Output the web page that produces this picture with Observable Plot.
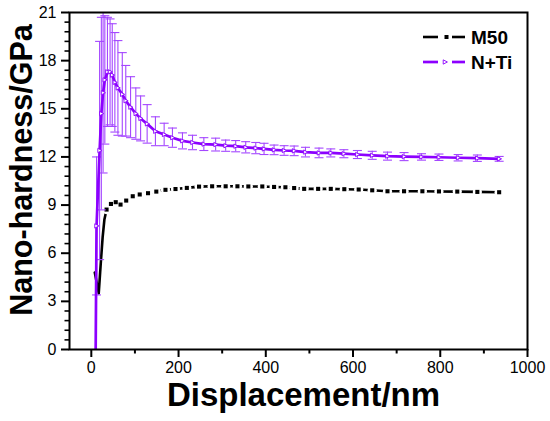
<!DOCTYPE html>
<html>
<head>
<meta charset="utf-8">
<script src="https://cdn.jsdelivr.net/npm/d3@7"></script>
<script src="https://cdn.jsdelivr.net/npm/@observablehq/plot@0.6"></script>
<style>
  body { margin: 0; background: #fff; }
  #wrap { position: relative; width: 550px; height: 421px; font-family: "Liberation Sans", Arial, sans-serif; }
  #legend { position: absolute; left: 0; top: 0; pointer-events: none; }
</style>
</head>
<body>
<div id="wrap"></div>
<script>
// ---- data ----
const seriesNames = ["M50", "N+Ti"];

const m50X = [8, 17, 22, 26, 30, 35, 45, 56, 67, 80, 95, 111, 130, 149, 170, 193, 219, 247, 277, 308, 335, 360, 392, 419, 445, 465, 488, 520, 549, 580, 613, 644, 679, 717, 759, 797, 839, 885, 935];
const m50Y = [4.8, 3.5, 5.5, 7.0, 8.1, 8.72, 9.07, 9.18, 9.03, 9.28, 9.55, 9.66, 9.74, 9.84, 9.95, 10.0, 10.07, 10.15, 10.17, 10.17, 10.17, 10.16, 10.16, 10.13, 10.11, 10.06, 10.01, 10.01, 10.01, 9.99, 9.97, 9.92, 9.86, 9.86, 9.86, 9.85, 9.84, 9.82, 9.8];

const ntiX = [10, 12, 19, 23, 27, 31, 37, 43, 48, 54, 61, 71, 79, 90, 102, 113, 128, 147, 167, 186, 209, 232, 258, 285, 308, 331, 354, 377, 396, 419, 442, 465, 491, 522, 549, 579, 610, 644, 679, 717, 757, 797, 841, 885, 935];
const ntiY = [0, 7.7, 12.4, 14.7, 16.0, 16.8, 17.3, 17.3, 17.1, 16.65, 16.3, 15.9, 15.5, 15.1, 14.7, 14.4, 14.06, 13.6, 13.4, 13.2, 13.0, 12.9, 12.8, 12.77, 12.7, 12.67, 12.6, 12.55, 12.5, 12.44, 12.4, 12.38, 12.3, 12.25, 12.25, 12.2, 12.15, 12.1, 12.05, 12.02, 12.0, 11.98, 11.95, 11.92, 11.88];
const ntiErr = [0, 4.3, 6.8, 6.0, 5.0, 4.0, 3.4, 3.3, 3.2, 3.1, 2.95, 2.6, 2.2, 1.9, 1.6, 1.4, 1.2, 0.9, 0.7, 0.6, 0.5, 0.45, 0.4, 0.4, 0.35, 0.35, 0.35, 0.35, 0.35, 0.3, 0.3, 0.3, 0.3, 0.3, 0.25, 0.25, 0.25, 0.25, 0.25, 0.25, 0.2, 0.2, 0.2, 0.2, 0.15];

const xTicks = [0, 200, 400, 600, 800, 1000];
const xMinorTicks = [100, 300, 500, 700, 900];
const yTicks = [0, 3, 6, 9, 12, 15, 18, 21];
const yMinorTicks = d3.range(1, 35).map(i => +(i * 0.6).toFixed(1)).filter(v => Math.abs(v / 3 - Math.round(v / 3)) > 1e-6);

const xTitle = "Displacement/nm";
const yTitle = "Nano-hardness/GPa";

// ---- tables ----
const m50 = m50X.map((x, i) => ({x, y: m50Y[i]}));
const nti = ntiX.map((x, i) => ({x, y: ntiY[i], lo: ntiY[i] - ntiErr[i], hi: ntiY[i] + ntiErr[i]}));
const ntiBars = nti.filter(d => d.hi > d.lo);

// ---- custom symbols ----
const capSymbol = { draw(ctx, size) { const r = Math.sqrt(size / Math.PI); ctx.moveTo(-r, 0); ctx.lineTo(r, 0); } };
const triRight = { draw(ctx, size) { const r = Math.sqrt(size / Math.PI); ctx.moveTo(r, 0); ctx.lineTo(-r * 0.75, -r * 0.9); ctx.lineTo(-r * 0.75, r * 0.9); ctx.closePath(); } };

const PURPLE = "#8c00ff";
const BAR = "#a447ff";
const FONT = "Liberation Sans, Arial, sans-serif";

const chart = Plot.plot({
  width: 550,
  height: 421,
  marginLeft: 69,
  marginRight: 23,
  marginTop: 12,
  marginBottom: 72,
  style: { fontFamily: FONT, background: "#fff", overflow: "visible" },
  x: { domain: [-50, 1000] },
  y: { domain: [0, 21] },
  marks: [
    // M50: solid line broken around its symbols
    Plot.line(m50, { x: "x", y: "y", stroke: "#000", strokeWidth: 2.6 }),
    Plot.dot(m50.slice(5), { x: "x", y: "y", r: 4.6, fill: "#fff", stroke: "none" }),
    Plot.dot(m50.slice(5), { x: "x", y: "y", symbol: "square", r: 2.3, fill: "#000", stroke: "none" }),
    // N+Ti error bars
    Plot.ruleX(ntiBars, { x: "x", y1: "lo", y2: "hi", stroke: BAR, strokeWidth: 1.1, clip: true }),
    Plot.dot(ntiBars, { x: "x", y: "hi", symbol: capSymbol, r: 4.5, stroke: BAR, strokeWidth: 1.1, fill: "none", clip: true }),
    Plot.dot(ntiBars, { x: "x", y: "lo", symbol: capSymbol, r: 4.5, stroke: BAR, strokeWidth: 1.1, fill: "none", clip: true }),
    // N+Ti line and hollow triangle symbols
    Plot.line(nti, { x: "x", y: "y", stroke: PURPLE, strokeWidth: 2.7, clip: true }),
    Plot.dot(nti.slice(1), { x: "x", y: "y", symbol: triRight, r: 2.4, fill: "#fff", stroke: PURPLE, strokeWidth: 0.9 }),
    // axes
    Plot.axisX({ ticks: xTicks, tickFormat: d => String(d), tickSize: 8, tickPadding: 4, fontSize: 16, strokeWidth: 2, label: null, fill: "#000" }),
    Plot.axisX({ ticks: xMinorTicks, tickSize: 4.5, strokeWidth: 2, text: null, label: null }),
    Plot.axisY({ ticks: yTicks, tickFormat: d => String(d), tickSize: 8, tickPadding: 5, fontSize: 16, strokeWidth: 2, label: null, fill: "#000" }),
    Plot.axisY({ ticks: yMinorTicks, tickSize: 4.5, strokeWidth: 1.6, text: null, label: null }),
    Plot.frame({ stroke: "#000", strokeWidth: 2 }),
    // axis titles
    Plot.text([xTitle], { frameAnchor: "bottom", dx: 5, dy: 46, text: d => d, fontSize: 33, fontWeight: "bold", fill: "#000", textAnchor: "middle", lineAnchor: "middle" }),
    Plot.text([yTitle], { frameAnchor: "left", dx: -47, dy: -11, text: d => d, rotate: -90, fontSize: 30.5, fontWeight: "bold", fill: "#000", textAnchor: "middle", lineAnchor: "middle" })
  ]
});

const wrap = document.getElementById("wrap");
wrap.appendChild(chart);

// ---- legend (overlay) ----
const leg = d3.select(wrap).append("svg").attr("id", "legend").attr("width", 550).attr("height", 421);
const rows = [
  { name: seriesNames[0], color: "#000", y: 37, kind: "square" },
  { name: seriesNames[1], color: PURPLE, y: 62, kind: "tri" }
];
for (const r of rows) {
  const g = leg.append("g");
  g.append("line").attr("x1", 423).attr("x2", 438).attr("y1", r.y).attr("y2", r.y).attr("stroke", r.color).attr("stroke-width", r.kind === "tri" ? 2.7 : 2.6);
  g.append("line").attr("x1", 452).attr("x2", 465).attr("y1", r.y).attr("y2", r.y).attr("stroke", r.color).attr("stroke-width", r.kind === "tri" ? 2.7 : 2.6);
  if (r.kind === "square") {
    g.append("rect").attr("x", 444.5).attr("y", r.y - 2).attr("width", 4).attr("height", 4).attr("fill", "#000");
  } else {
    g.append("path").attr("d", d3.symbol(triRight, 18)()).attr("transform", `translate(445,${r.y})`).attr("fill", "#fff").attr("stroke", PURPLE).attr("stroke-width", 0.9);
  }
  g.append("text").attr("x", 471).attr("y", r.y + 7).text(r.name)
    .attr("font-family", FONT).attr("font-weight", "bold").attr("font-size", 19).attr("fill", "#000");
}
</script>
</body>
</html>
